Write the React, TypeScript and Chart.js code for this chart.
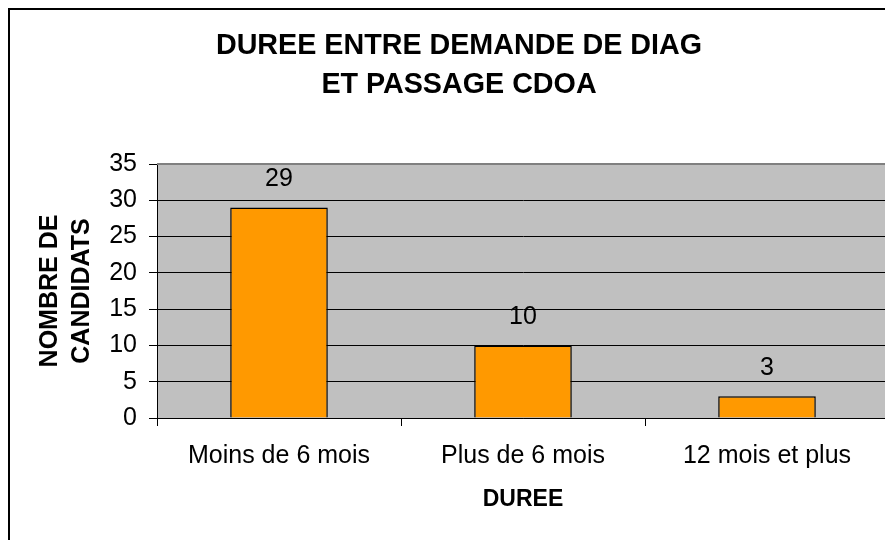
import React, { useEffect, useRef } from "react";
import { Chart, registerables } from "chart.js";

Chart.register(...registerables);

const categories: string[] = ["Moins de 6 mois", "Plus de 6 mois", "12 mois et plus"];
const candidats: number[] = [29, 10, 3];
const titleLines: string[] = ["DUREE ENTRE DEMANDE DE DIAG", "ET PASSAGE CDOA"];
const yTitleLines: string[] = ["NOMBRE DE", "CANDIDATS"];
const xTitle = "DUREE";
const yMin = 0;
const yMax = 35;
const yStep = 5;

const FONT = "'Liberation Sans', Arial, Helvetica, sans-serif";

const plotBackground = {
  id: "plotBackground",
  beforeDraw(chart: any) {
    const { ctx, chartArea } = chart;
    ctx.save();
    ctx.fillStyle = "#C0C0C0";
    ctx.fillRect(chartArea.left, chartArea.top, chartArea.right - chartArea.left, chartArea.bottom - chartArea.top);
    // outer frame (left and top edges visible)
    ctx.strokeStyle = "#000000";
    ctx.lineWidth = 2;
    ctx.beginPath();
    ctx.moveTo(1, chart.height);
    ctx.lineTo(1, 1);
    ctx.lineTo(chart.width, 1);
    ctx.stroke();
    ctx.restore();
  },
  afterDatasetsDraw(chart: any) {
    const { ctx, chartArea } = chart;
    ctx.save();
    ctx.strokeStyle = "#808080";
    ctx.lineWidth = 2;
    ctx.beginPath();
    ctx.moveTo(chartArea.left, chartArea.top);
    ctx.lineTo(chartArea.right, chartArea.top);
    ctx.lineTo(chartArea.right, chartArea.bottom);
    ctx.stroke();
    ctx.restore();
  },
};

const valueLabels = {
  id: "valueLabels",
  afterDatasetsDraw(chart: any) {
    const { ctx } = chart;
    const meta = chart.getDatasetMeta(0);
    ctx.save();
    ctx.fillStyle = "#000000";
    ctx.font = `25px ${FONT}`;
    ctx.textAlign = "center";
    ctx.textBaseline = "middle";
    meta.data.forEach((bar: any, i: number) => {
      ctx.fillText(String(candidats[i]), bar.x, bar.y - 28);
    });
    ctx.restore();
  },
};

export default function App() {
  const canvasRef = useRef<HTMLCanvasElement | null>(null);

  useEffect(() => {
    document.body.style.overflow = "hidden";
    const canvas = canvasRef.current;
    if (!canvas) return;
    const chart = new Chart(canvas, {
      type: "bar",
      data: {
        labels: categories,
        datasets: [
          {
            data: candidats,
            backgroundColor: "#FF9900",
            borderColor: "#000000",
            borderWidth: 1.5,
            barPercentage: 0.4,
            categoryPercentage: 1,
          },
        ],
      },
      options: {
        responsive: false,
        animation: false,
        devicePixelRatio: 1,
        layout: { padding: { left: 21, right: 4, top: 0, bottom: 0 } },
        plugins: {
          legend: { display: false },
          tooltip: { enabled: false },
          title: {
            display: true,
            text: titleLines,
            color: "#000000",
            font: { family: FONT, size: 28.7, weight: "bold", lineHeight: "39px" },
            padding: { top: 19, bottom: 59 },
          },
        },
        scales: {
          x: {
            afterFit: (scale: any) => {
              scale.height = 122;
            },
            grid: {
              display: true,
              drawOnChartArea: false,
              drawTicks: true,
              tickLength: 8,
              color: "#000000",
              offset: true,
            },
            border: { display: true, color: "#000000", width: 1 },
            ticks: {
              color: "#000000",
              font: { family: FONT, size: 25 },
              padding: 15,
              maxRotation: 0,
              autoSkip: false,
            },
            title: {
              display: true,
              text: xTitle,
              color: "#000000",
              font: { family: FONT, size: 23, weight: "bold", lineHeight: "26px" },
              padding: { top: 0, bottom: 27 },
            },
          },
          y: {
            min: yMin,
            max: yMax,
            afterFit: (scale: any) => {
              scale.width = 128;
            },
            grid: {
              color: "#000000",
              lineWidth: 1,
              drawTicks: true,
              tickLength: 8,
            },
            border: { display: true, color: "#000000", width: 1 },
            ticks: {
              stepSize: yStep,
              color: "#000000",
              font: { family: FONT, size: 25 },
              padding: 12,
            },
            title: {
              display: true,
              text: yTitleLines,
              color: "#000000",
              font: { family: FONT, size: 25, weight: "bold", lineHeight: "32px" },
              padding: { top: 5, bottom: 0 },
            },
          },
        },
      },
      plugins: [plotBackground, valueLabels],
    } as any);
    return () => {
      chart.destroy();
    };
  }, []);

  return (
    <div>
      <canvas ref={canvasRef} width={885} height={532} style={{ display: "block" }} />
    </div>
  );
}
